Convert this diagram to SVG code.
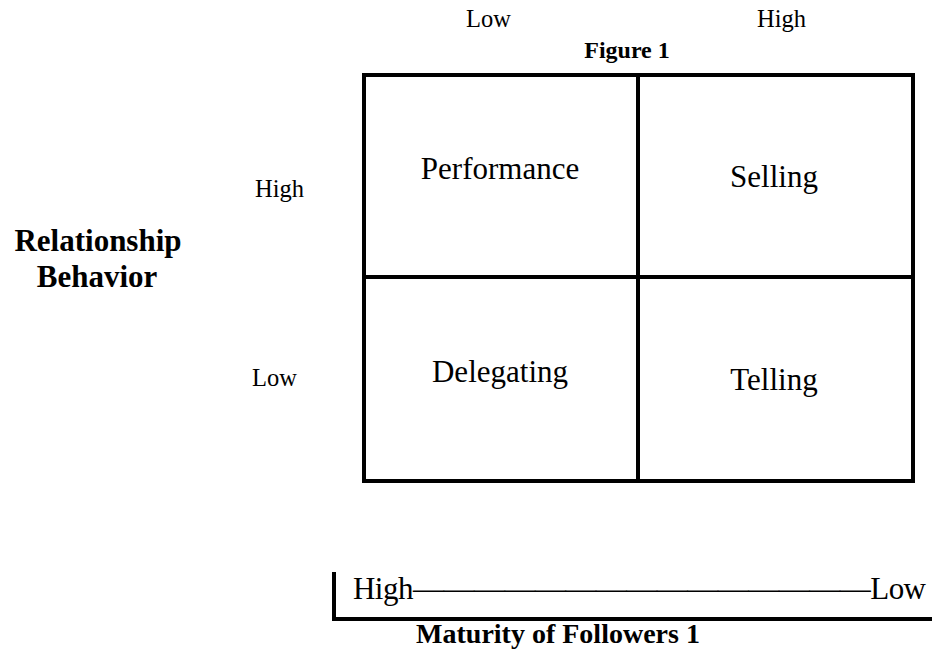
<svg xmlns="http://www.w3.org/2000/svg" width="932" height="650" viewBox="0 0 932 650">
<style>
text{font-family:"Liberation Serif","Times New Roman",serif;fill:#000}
.q{font-size:31px;text-anchor:middle}
.s{font-size:24.5px}
.b{font-weight:bold}
.ln{stroke:#000;stroke-width:4;fill:none}
</style>
<rect width="932" height="650" fill="#fff"/>
<g id="axis-top">
<text class="s" x="466" y="27">Low</text>
<text class="s" x="757" y="27">High</text>
<text class="b" x="627" y="58" font-size="24" text-anchor="middle">Figure 1</text>
</g>
<g id="axis-left">
<text class="s" x="255" y="197">High</text>
<text class="s" x="252" y="386">Low</text>
<text class="b" x="98" y="251" font-size="31" text-anchor="middle">Relationship</text>
<text class="b" x="97" y="287" font-size="31" text-anchor="middle">Behavior</text>
</g>
<g id="grid">
<rect class="ln" x="364" y="75" width="549" height="406"/>
<line class="ln" x1="638" y1="75" x2="638" y2="481"/>
<line class="ln" x1="364" y1="277" x2="913" y2="277"/>
</g>
<g id="performance"><text class="q" x="500" y="179">Performance</text></g>
<g id="selling"><text class="q" x="774" y="187">Selling</text></g>
<g id="delegating"><text class="q" x="500" y="382">Delegating</text></g>
<g id="telling"><text class="q" x="774" y="390">Telling</text></g>
<g id="maturity">
<path class="ln" d="M334 572 V619 H932"/>
<text x="353" y="599" font-size="31" textLength="573">High———————————————Low</text>
<text class="b" x="558" y="643" font-size="28" text-anchor="middle">Maturity of Followers 1</text>
</g>
</svg>
